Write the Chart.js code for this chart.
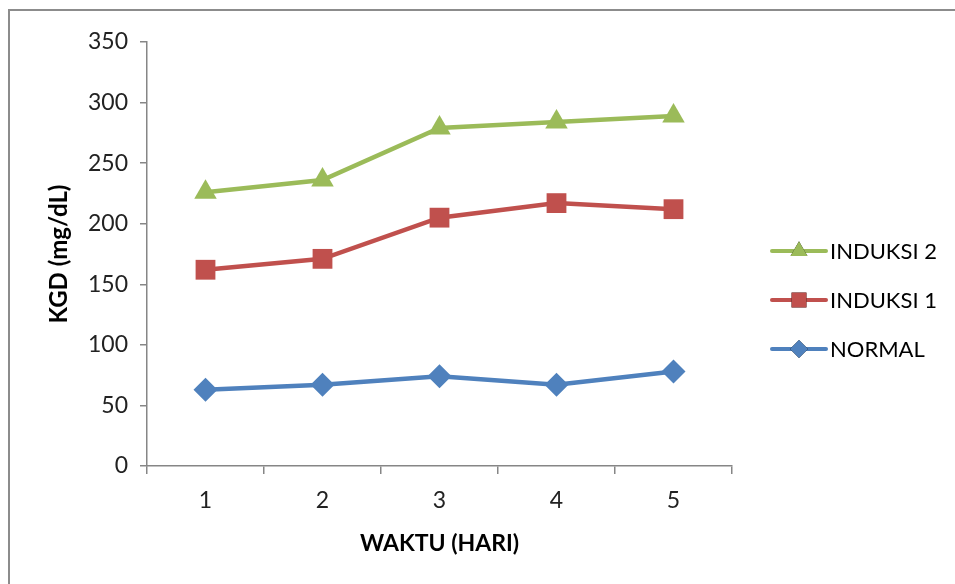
<!DOCTYPE html>
<html>
<head>
<meta charset="utf-8">
<script src="https://cdn.jsdelivr.net/npm/chart.js@4.4.1/dist/chart.umd.min.js"></script>
<style>
  html, body { margin: 0; padding: 0; background: #fff; }
  #wrap { width: 955px; height: 584px; position: relative; }
</style>
</head>
<body>
<div id="wrap"><canvas id="grafik" width="955" height="584"></canvas></div>
<script>
/* ── Data ─────────────────────────────────────────────────────────────── */
const hari      = ['1', '2', '3', '4', '5'];
const normal    = [63, 67, 74, 67, 78];
const induksi1  = [162, 171, 205, 217, 212];
const induksi2  = [226, 236, 279, 284, 289];
const yTicks    = [0, 50, 100, 150, 200, 250, 300, 350];

const FONT = 'Lato, "Open Sans", "Liberation Sans", sans-serif';
const GRIS = '#868686';

/* ── Borde + leyenda a la derecha ─────────────────────────────────────── */
const bordePlugin = {
  id: 'borde',
  beforeDraw(chart) {
    const ctx = chart.ctx;
    ctx.save();
    ctx.strokeStyle = '#8c8c8c';
    ctx.lineWidth = 2;
    ctx.beginPath();
    ctx.moveTo(9, 584);
    ctx.lineTo(9, 10);
    ctx.lineTo(955, 10);
    ctx.stroke();
    ctx.restore();
  }
};

const leyendaPlugin = {
  id: 'leyenda',
  afterDraw(chart) {
    const ctx = chart.ctx;
    const items = chart.data.datasets.slice().reverse();
    const x0 = 772, x1 = 826, y0 = 251, paso = 49;
    ctx.save();
    items.forEach((ds, i) => {
      const y = y0 + i * paso;
      ctx.strokeStyle = ds.borderColor;
      ctx.lineWidth = 4;
      ctx.lineCap = 'round';
      ctx.beginPath();
      ctx.moveTo(x0, y);
      ctx.lineTo(x1, y);
      ctx.stroke();
      Chart.helpers.drawPoint(ctx, {
        pointStyle: ds.pointStyle,
        radius: ds.pointRadius * 0.75,
        rotation: 0,
        borderWidth: 0
      }, (x0 + x1) / 2, y);
      ctx.fillStyle = ds.backgroundColor;
      ctx.fill();
      ctx.fillStyle = '#000';
      ctx.font = '22px ' + FONT;
      ctx.textBaseline = 'middle';
      ctx.textAlign = 'left';
      ctx.fillText(ds.label, x1 + 4, y + 1);
    });
    ctx.restore();
  }
};

function serie(label, data, color, style, r) {
  return {
    label, data,
    borderColor: color,
    backgroundColor: color,
    borderWidth: 4.5,
    pointStyle: style,
    pointRadius: r,
    pointHoverRadius: r,
    pointBorderWidth: 0,
    tension: 0
  };
}

/* ── Gráfico ──────────────────────────────────────────────────────────── */
new Chart(document.getElementById('grafik'), {
  type: 'line',
  data: {
    labels: hari,
    datasets: [
      serie('NORMAL',    normal,   '#4F81BD', 'rectRot',  12),
      serie('INDUKSI 1', induksi1, '#C0504D', 'rect',     14),
      serie('INDUKSI 2', induksi2, '#9BBB59', 'triangle', 13)
    ]
  },
  options: {
    responsive: false,
    animation: false,
    events: [],
    layout: { padding: { left: 0, top: 42, right: 223, bottom: 0 } },
    plugins: { legend: { display: false }, tooltip: { enabled: false } },
    scales: {
      x: {
        offset: true,
        afterFit: s => { s.height = 118; },
        border: { color: GRIS, width: 1.5 },
        grid: { display: true, offset: true, drawOnChartArea: false, drawTicks: true, tickLength: 8, color: GRIS, lineWidth: 1.5 },
        ticks: { color: '#222', font: { family: FONT, size: 23 }, padding: 13 },
        title: { display: true, text: 'WAKTU (HARI)', color: '#000', font: { family: FONT, size: 23, weight: 'bold' }, padding: { top: 0, bottom: 27 } }
      },
      y: {
        min: 0, max: 350,
        afterFit: s => { s.width = 147; },
        afterBuildTicks: s => { s.ticks = yTicks.map(v => ({ value: v })); },
        border: { color: GRIS, width: 1.5 },
        grid: { display: true, drawOnChartArea: false, drawTicks: true, tickLength: 7, color: GRIS, lineWidth: 1.5 },
        ticks: { color: '#222', font: { family: FONT, size: 23 }, padding: 12 },
        title: { display: true, text: 'KGD (mg/dL)', color: '#000', font: { family: FONT, size: 24, weight: 'bold' }, padding: { top: 45, bottom: 0 } }
      }
    }
  },
  plugins: [bordePlugin, leyendaPlugin]
});
</script>
</body>
</html>
